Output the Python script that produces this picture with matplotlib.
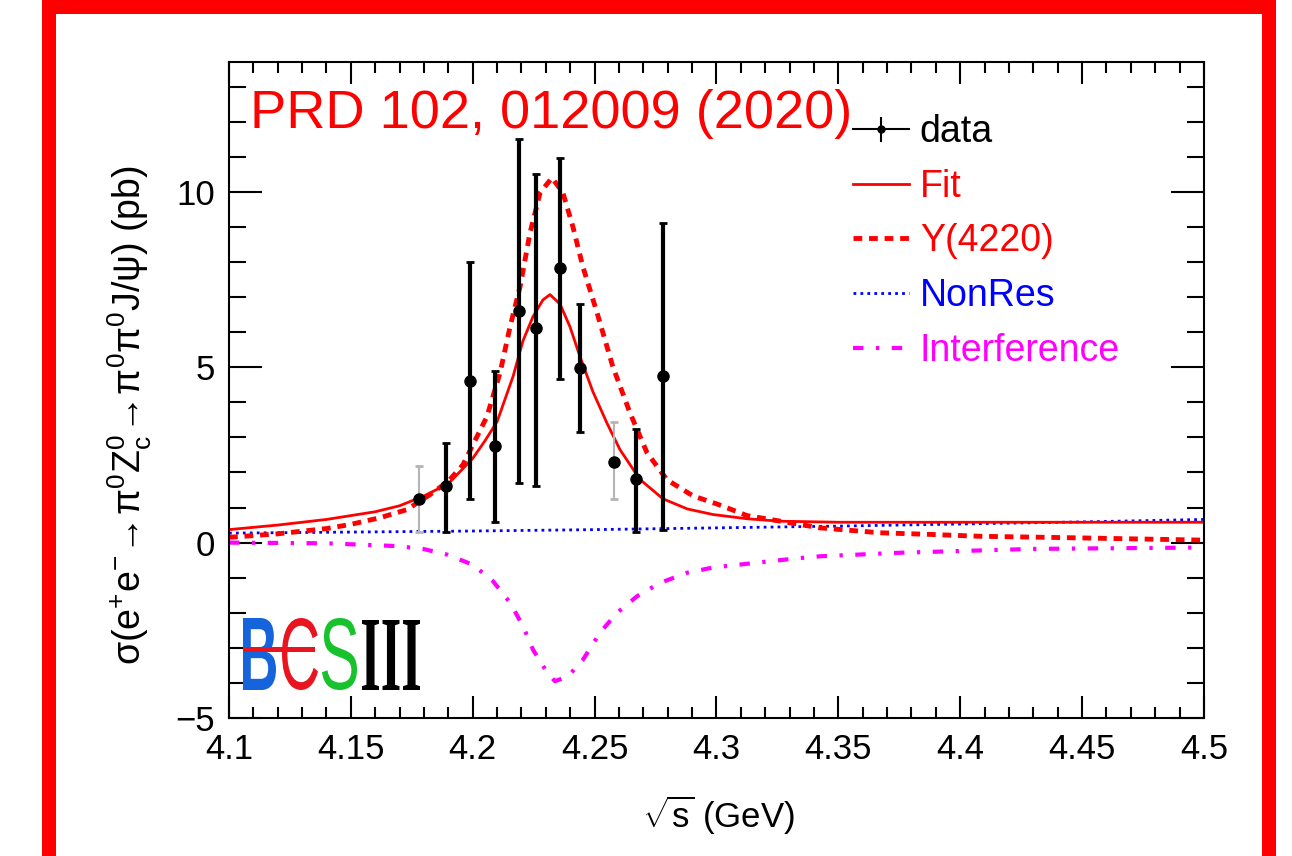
import numpy as np
import matplotlib
matplotlib.use("Agg")
import matplotlib.pyplot as plt
from matplotlib.textpath import TextPath
from matplotlib.font_manager import FontProperties
from matplotlib.patches import PathPatch, Rectangle
from matplotlib.transforms import Affine2D, IdentityTransform
from matplotlib.lines import Line2D
from matplotlib.legend_handler import HandlerTuple
from matplotlib.ticker import MultipleLocator, FixedLocator

plt.rcParams["font.family"] = ["Liberation Sans", "DejaVu Sans"]
plt.rcParams["mathtext.fontset"] = "custom"
plt.rcParams["mathtext.rm"] = "Liberation Sans"
plt.rcParams["mathtext.it"] = "Liberation Sans"
plt.rcParams["mathtext.default"] = "regular"

# ---------------- data ----------------
data_x = [4.178, 4.189, 4.199, 4.209, 4.219, 4.226, 4.236, 4.244, 4.258, 4.267, 4.278]
data_y = [1.23, 1.62, 4.62, 2.74, 6.61, 6.13, 7.83, 4.99, 2.31, 1.82, 4.76]
data_lo = [0.31, 0.31, 1.23, 0.60, 1.71, 1.62, 4.67, 3.16, 1.23, 0.31, 0.37]
data_hi = [2.17, 2.85, 8.00, 4.90, 11.5, 10.5, 10.97, 6.81, 3.45, 3.25, 9.12]
data_gray = [True, False, False, False, False, False, False, False, True, False, False]

fit_x = [4.100, 4.120, 4.140, 4.160, 4.170, 4.180, 4.190, 4.200, 4.205, 4.210,
         4.2166, 4.2206, 4.2247, 4.2288, 4.2317, 4.2358, 4.2399, 4.244, 4.2493,
         4.2551, 4.2604, 4.2686, 4.278, 4.288, 4.2986, 4.3125, 4.326, 4.350,
         4.400, 4.450, 4.500]
fit_y = [0.37, 0.50, 0.66, 0.88, 1.05, 1.33, 1.68, 2.40, 2.90, 3.45,
         4.75, 5.75, 6.44, 6.92, 7.07, 6.80, 6.15, 5.30, 4.30,
         3.40, 2.65, 1.80, 1.25, 0.96, 0.80, 0.68, 0.61, 0.58,
         0.58, 0.58, 0.58]

y4220_x = [4.100, 4.120, 4.140, 4.150, 4.162, 4.173, 4.1825, 4.190, 4.196, 4.2058,
           4.2112, 4.2153, 4.2194, 4.2235, 4.2276, 4.2325, 4.237, 4.2411, 4.2452,
           4.251, 4.2575, 4.2645, 4.2715, 4.2797, 4.2904, 4.3002, 4.3055, 4.3125,
           4.322, 4.3425, 4.367, 4.389, 4.408, 4.444, 4.500]
y4220_y = [0.15, 0.25, 0.40, 0.52, 0.71, 0.94, 1.37, 1.75, 2.22, 3.59,
           4.84, 6.15, 7.29, 8.83, 9.97, 10.4, 9.97, 9.00, 7.86,
           6.55, 5.01, 3.70, 2.56, 1.79, 1.33, 1.10, 0.96, 0.77,
           0.66, 0.42, 0.28, 0.23, 0.18, 0.14, 0.07]

nonres_x = [4.10, 4.15, 4.20, 4.25, 4.30, 4.35, 4.40, 4.45, 4.50]
nonres_y = [0.27, 0.30, 0.33, 0.37, 0.42, 0.47, 0.53, 0.59, 0.66]

interf_x = [4.100, 4.140, 4.169, 4.1796, 4.1894, 4.200, 4.2083, 4.2153, 4.2206,
            4.2247, 4.2305, 4.2337, 4.239, 4.2452, 4.2522, 4.2592, 4.2674, 4.2768,
            4.2879, 4.2986, 4.3314, 4.3425, 4.375, 4.4298, 4.500]
interf_y = [0.0, -0.02, -0.10, -0.18, -0.34, -0.63, -1.10, -1.71, -2.38,
            -3.05, -3.70, -3.95, -3.82, -3.34, -2.57, -2.00, -1.53, -1.15,
            -0.86, -0.71, -0.46, -0.39, -0.29, -0.18, -0.14]

xtick_vals = [4.1, 4.15, 4.2, 4.25, 4.3, 4.35, 4.4, 4.45, 4.5]
xtick_labels = ["4.1", "4.15", "4.2", "4.25", "4.3", "4.35", "4.4", "4.45", "4.5"]
ytick_vals = [-5, 0, 5, 10]
ytick_labels = ["\u22125", "0", "5", "10"]

legend_labels = ["data", "Fit", "Y(4220)", "NonRes", "Interference"]
legend_colors = ["black", "#ff0000", "#ff0000", "#0000ff", "#ff00ff"]

# ---------------- figure ----------------
W, H = 1292, 856
fig = plt.figure(figsize=(W / 100, H / 100), dpi=100)
fig.patch.set_facecolor("white")

# red outer frame
RED = "#ff0000"
fig.add_artist(Rectangle((42 / W, 0), 14 / W, 1, transform=fig.transFigure, color=RED, lw=0))
fig.add_artist(Rectangle((1262 / W, 0), 14 / W, 1, transform=fig.transFigure, color=RED, lw=0))
fig.add_artist(Rectangle((42 / W, 1 - 14 / H), (1276 - 42) / W, 14 / H, transform=fig.transFigure, color=RED, lw=0))

ax = fig.add_axes([229 / W, 1 - 718 / H, (1204 - 229) / W, (718 - 62) / H])
ax.set_xlim(4.1, 4.5)
ax.set_ylim(-5, 13.7)

# curves
l_int, = ax.plot(interf_x, interf_y, color="#ff00ff", lw=3, linestyle=(0, (2.5, 3, 0.8, 3)))
l_non, = ax.plot(nonres_x, nonres_y, color="#0000ff", lw=2, linestyle=(0, (1, 1.5)))
l_y, = ax.plot(y4220_x, y4220_y, color=RED, lw=3.5, linestyle=(0, (1.8, 1.4)))
l_fit, = ax.plot(fit_x, fit_y, color=RED, lw=2)

# data with asymmetric errors
dx = np.array(data_x)
dy = np.array(data_y)
lo = dy - np.array(data_lo)
hi = np.array(data_hi) - dy
gray = np.array(data_gray)
ax.errorbar(dx[~gray], dy[~gray], yerr=[lo[~gray], hi[~gray]], fmt="none",
            ecolor="black", elinewidth=3, capsize=3, capthick=2, zorder=5)
ax.errorbar(dx[gray], dy[gray], yerr=[lo[gray], hi[gray]], fmt="none",
            ecolor="#b5b5b5", elinewidth=1.5, capsize=3, capthick=2, zorder=5)
ax.plot(dx, dy, "o", color="black", ms=8, zorder=6)

# axes styling
ax.xaxis.set_major_locator(FixedLocator(xtick_vals))
ax.set_xticklabels(xtick_labels)
ax.xaxis.set_minor_locator(MultipleLocator(0.01))
ax.yaxis.set_major_locator(FixedLocator(ytick_vals))
ax.set_yticklabels(ytick_labels)
ax.yaxis.set_minor_locator(MultipleLocator(1))
ax.tick_params(which="both", direction="in", top=True, right=True, width=1.5, labelsize=25)
ax.tick_params(axis="x", which="major", length=16, pad=11)
ax.tick_params(axis="x", which="minor", length=8)
ax.tick_params(axis="y", which="major", length=24, pad=10)
ax.tick_params(axis="y", which="minor", length=12)
for s in ax.spines.values():
    s.set_linewidth(1.5)

fig.text(718 / W, 1 - 815 / H, r"$\sqrt{s}$ (GeV)", ha="center", va="center", fontsize=25)
fig.text(130 / W, 1 - 415 / H,
         r"$\sigma(e^{+}e^{-}\!\rightarrow\!\pi^{0}Z_{c}^{0}\!\rightarrow\!\pi^{0}\pi^{0}J/\psi)$ (pb)",
         ha="center", va="center", rotation=90, fontsize=27)

fig.text(250 / W, 1 - 128 / H, "PRD 102, 012009 (2020)", color=RED, fontsize=39,
         ha="left", va="baseline")

# legend
h_data = (Line2D([0], [0], color="black", lw=1.5, marker="o", ms=5),
          Line2D([0], [0], color="black", lw=0, marker="|", ms=18, mew=1.5))
handles = [h_data, l_fit, l_y, l_non, l_int]
leg = fig.legend(handles, legend_labels, loc="upper left",
                 bbox_to_anchor=(853 / W, 1 - 114 / H), bbox_transform=fig.transFigure,
                 frameon=False, fontsize=27, handlelength=1.5, handletextpad=0.28,
                 labelspacing=0.5, borderpad=0, borderaxespad=0,
                 handler_map={tuple: HandlerTuple(ndivide=1)})
for t, c in zip(leg.get_texts(), legend_colors):
    t.set_color(c)

# BESIII logo
def glyph(s, box, color, family="Liberation Sans", weight="bold"):
    x0, y0, x1, y1 = box  # image pixel coords (top-left origin)
    tp = TextPath((0, 0), s, size=100, prop=FontProperties(family=family, weight=weight))
    ext = tp.get_extents()
    sx = (x1 - x0) / ext.width
    sy = (y1 - y0) / ext.height
    tr = Affine2D().translate(-ext.x0, -ext.y0).scale(sx, sy).translate(x0, H - y1)
    p = PathPatch(tr.transform_path(tp), facecolor=color, edgecolor="none",
                  transform=IdentityTransform())
    fig.add_artist(p)

glyph("B", (243, 618, 276, 690), "#1664dc")
glyph("C", (282, 618, 318, 690), "#e8141e", weight="normal")
glyph("S", (322, 618, 357, 690), "#18c22c", weight="normal")
glyph("III", (362, 620, 420, 690), "black", family="Liberation Serif")
fig.add_artist(Rectangle((243, H - 652), 72, 5, transform=IdentityTransform(),
                         color="#e8141e", lw=0))

fig.savefig("out.png", dpi=100)
